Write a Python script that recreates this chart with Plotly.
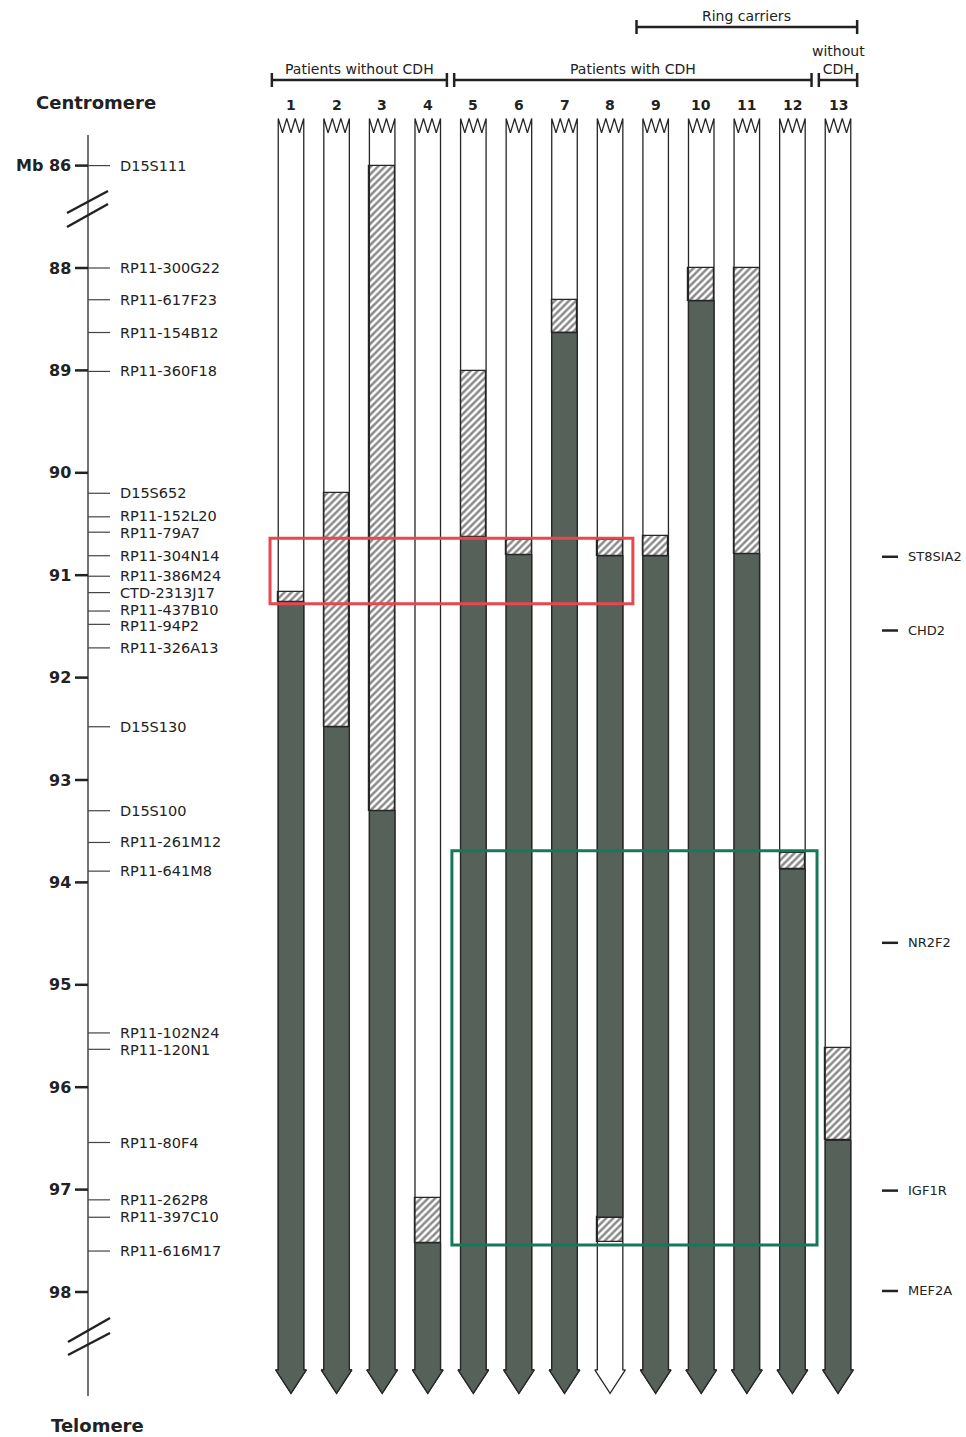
import plotly.graph_objects as go

# ---------------- data ----------------
patients = list(range(1, 14))
patient_labels = [str(p) for p in patients]

# proximal breakpoint interval per patient (Mb): retained up to / deleted from
retained_to = [91.16, 90.20, 86.00, 97.08, 89.01, 90.66, 88.31, 90.66, 90.62, 88.00, 88.00, 93.71, 95.62]
deleted_from = [91.26, 92.48, 93.30, 97.52, 90.63, 90.80, 88.63, 90.81, 90.81, 88.32, 90.79, 93.87, 96.52]
# distal breakpoint interval (interstitial deletion, patient 8 only)
deleted_to = [None, None, None, None, None, None, None, 97.27, None, None, None, None, None]
retained_from = [None, None, None, None, None, None, None, 97.51, None, None, None, None, None]

marker_names = ["D15S111", "RP11-300G22", "RP11-617F23", "RP11-154B12", "RP11-360F18",
                "D15S652", "RP11-152L20", "RP11-79A7", "RP11-304N14", "RP11-386M24",
                "CTD-2313J17", "RP11-437B10", "RP11-94P2", "RP11-326A13", "D15S130",
                "D15S100", "RP11-261M12", "RP11-641M8", "RP11-102N24", "RP11-120N1",
                "RP11-80F4", "RP11-262P8", "RP11-397C10", "RP11-616M17"]
marker_mb = [86.00, 88.00, 88.31, 88.63, 89.01, 90.20, 90.43, 90.58, 90.81, 91.01,
             91.17, 91.35, 91.48, 91.71, 92.48, 93.30, 93.61, 93.89, 95.47, 95.63,
             96.54, 97.10, 97.27, 97.60]

gene_names = ["ST8SIA2", "CHD2", "NR2F2", "IGF1R", "MEF2A"]
gene_mb = [90.82, 91.54, 94.59, 97.01, 97.99]

axis_ticks_mb = [86, 88, 89, 90, 91, 92, 93, 94, 95, 96, 97, 98]
axis_tick_labels = ["Mb 86", "88", "89", "90", "91", "92", "93", "94", "95", "96", "97", "98"]

group_labels = ["Patients without CDH", "Patients with CDH", "without<br>CDH"]
group_first = [1, 5, 13]
group_last = [4, 12, 13]
ring_label = "Ring carriers"
ring_first, ring_last = 9, 13

# highlighted regions: patient span and Mb span
box_names = ["red", "green"]
box_col_from = [0.54, 4.53]
box_col_to = [8.50, 12.54]
box_mb_from = [90.64, 93.69]
box_mb_to = [91.28, 97.54]

# ---------------- style ----------------
W, H = 966, 1437
FONT = "DejaVu Sans"
DARK = "#56615a"
LINE = "#262626"
TXT = "#222222"
RED = "#e8474f"
GREEN = "#16775a"
BAR_HALF = 0.28
HEAD_HALF = 0.335
TOP = 86.54
ZIG = 0.14
NECK = 98.76
TIP = 98.99
LABEL_SIZE = 14.5
LABEL_GAP = 0.165  # minimal vertical gap between marker labels (Mb units)


def disp(v):
    """map Mb onto the broken axis (86 -> 88 gap compressed)"""
    return v + 1 if v < 88 else v


def px(x):
    return x / W


def py(y):
    return 1 - y / H


def spread(vals, gap):
    pos = list(vals)
    for _ in range(50):
        moved = False
        for i in range(len(pos) - 1):
            d = pos[i + 1] - pos[i]
            if d < gap - 1e-9:
                push = (gap - d) / 2
                pos[i] -= push
                pos[i + 1] += push
                moved = True
        if not moved:
            break
    return pos


fig = go.Figure()

# outline of every chromosome bar (zigzag top, arrow bottom)
ox, oy = [], []
for c in patients:
    xl, xr = c - BAR_HALF, c + BAR_HALF
    for k in range(7):
        ox.append(xl + k * (xr - xl) / 6)
        oy.append(TOP + (ZIG if k % 2 else 0))
    ox += [xr, c + HEAD_HALF, c, c - HEAD_HALF, xl, xl, None]
    oy += [NECK, NECK, TIP, NECK, NECK, TOP, None]
fig.add_trace(go.Scatter(x=ox, y=oy, mode="lines", line=dict(color=LINE, width=1.3),
                         hoverinfo="skip", showlegend=False))

HATCH = dict(color="white", line=dict(color=LINE, width=1.2),
             pattern=dict(shape="/", fgcolor="#151515", bgcolor="white", size=5, solidity=0.5))

# hatched breakpoint intervals
fig.add_trace(go.Bar(
    x=patients, base=[disp(v) for v in retained_to],
    y=[d - disp(r) for r, d in zip(retained_to, deleted_from)],
    width=2 * BAR_HALF, marker=HATCH, hoverinfo="skip", showlegend=False))
dx = [p for p, a in zip(patients, deleted_to) if a is not None]
fig.add_trace(go.Bar(
    x=dx, base=[a for a in deleted_to if a is not None],
    y=[b - a for a, b in zip(deleted_to, retained_from) if a is not None],
    width=2 * BAR_HALF, marker=HATCH, hoverinfo="skip", showlegend=False))

# deleted (dark) segments
dxs, dys = [], []
for c, d0, d1 in zip(patients, deleted_from, deleted_to):
    xl, xr = c - BAR_HALF, c + BAR_HALF
    if d1 is None:
        dxs += [xl, xr, xr, c + HEAD_HALF, c, c - HEAD_HALF, xl, xl, None]
        dys += [d0, d0, NECK, NECK, TIP, NECK, NECK, d0, None]
    else:
        dxs += [xl, xr, xr, xl, xl, None]
        dys += [d0, d0, d1, d1, d0, None]
fig.add_trace(go.Scatter(x=dxs, y=dys, mode="lines", fill="toself", fillcolor=DARK,
                         line=dict(color=LINE, width=1.3), hoverinfo="skip", showlegend=False))

shapes = []
ann = []

# highlighted boxes
for name, c0, c1, m0, m1 in zip(box_names, box_col_from, box_col_to, box_mb_from, box_mb_to):
    shapes.append(dict(type="rect", xref="x", yref="y", x0=c0, x1=c1, y0=m0, y1=m1,
                       line=dict(color=RED if name == "red" else GREEN, width=3)))

# left axis
shapes.append(dict(type="line", xref="paper", yref="paper", x0=px(88), x1=px(88),
                   y0=py(135), y1=py(1396), line=dict(color="#444444", width=1.5)))
for t, lab in zip(axis_ticks_mb, axis_tick_labels):
    shapes.append(dict(type="line", xref="paper", yref="y", x0=px(75), x1=px(88),
                       y0=disp(t), y1=disp(t), line=dict(color=TXT, width=2.5)))
    ann.append(dict(x=px(73), y=disp(t), xref="paper", yref="y", text="<b>%s</b>" % lab,
                    showarrow=False, xanchor="right", yanchor="middle",
                    font=dict(family=FONT, size=16, color=TXT)))
label_pos = spread([disp(m) for m in marker_mb], LABEL_GAP)
for m, lp, nm in zip(marker_mb, label_pos, marker_names):
    shapes.append(dict(type="line", xref="paper", yref="y", x0=px(88), x1=px(110),
                       y0=disp(m), y1=disp(m), line=dict(color="#444444", width=1.2)))
    ann.append(dict(x=px(118), y=lp, xref="paper", yref="y", text=nm,
                    showarrow=False, xanchor="left", yanchor="middle",
                    font=dict(family=FONT, size=LABEL_SIZE, color=TXT)))
# axis breaks
for (x0, y0, x1, y1) in [(67, 213, 108, 191), (67, 227, 108, 204),
                         (68, 1342, 110, 1318), (68, 1355, 110, 1333)]:
    shapes.append(dict(type="line", xref="paper", yref="paper", x0=px(x0), x1=px(x1),
                       y0=py(y0), y1=py(y1), line=dict(color=TXT, width=2.5)))

ann.append(dict(x=px(96), y=py(103), xref="paper", yref="paper", text="<b>Centromere</b>",
                showarrow=False, xanchor="center", yanchor="middle",
                font=dict(family=FONT, size=18, color=TXT)))
ann.append(dict(x=px(97), y=py(1425), xref="paper", yref="paper", text="<b>Telomere</b>",
                showarrow=False, xanchor="center", yanchor="middle",
                font=dict(family=FONT, size=18, color=TXT)))

# genes on the right
for g, m in zip(gene_names, gene_mb):
    shapes.append(dict(type="line", xref="paper", yref="y", x0=px(882), x1=px(898),
                       y0=m, y1=m, line=dict(color=TXT, width=2.5)))
    ann.append(dict(x=px(906), y=m, xref="paper", yref="y", text=g, showarrow=False,
                    xanchor="left", yanchor="middle", font=dict(family=FONT, size=13, color=TXT)))

# column numbers
for c, lab in zip(patients, patient_labels):
    ann.append(dict(x=c, y=py(105), xref="x", yref="paper", text="<b>%s</b>" % lab,
                    showarrow=False, xanchor="center", yanchor="middle",
                    font=dict(family=FONT, size=14, color=TXT)))


def bracket(c0, c1, ypx, label):
    x0, x1 = c0 - 0.42, c1 + 0.42
    shapes.append(dict(type="line", xref="x", yref="paper", x0=x0, x1=x1, y0=py(ypx), y1=py(ypx),
                       line=dict(color=TXT, width=2.5)))
    for xx in (x0, x1):
        shapes.append(dict(type="line", xref="x", yref="paper", x0=xx, x1=xx,
                           y0=py(ypx - 7), y1=py(ypx + 7), line=dict(color=TXT, width=2.5)))
    ann.append(dict(x=(x0 + x1) / 2, y=py(ypx - 1), xref="x", yref="paper", text=label,
                    showarrow=False, xanchor="center", yanchor="bottom",
                    font=dict(family=FONT, size=14, color=TXT)))


for lab, a, b in zip(group_labels, group_first, group_last):
    bracket(a, b, 80, lab)
bracket(ring_first, ring_last, 27, ring_label)

col_px = 45.583
x_left = 1 - 291 / col_px
x_right = x_left + W / col_px
mb_px = 102.4
y_top = 88 - 268 / mb_px
y_bot = 88 + (H - 268) / mb_px

fig.update_layout(
    width=W, height=H, margin=dict(l=0, r=0, t=0, b=0, pad=0),
    paper_bgcolor="white", plot_bgcolor="white",
    barmode="overlay", bargap=0,
    xaxis=dict(range=[x_left, x_right], visible=False, showgrid=False, zeroline=False),
    yaxis=dict(range=[y_bot, y_top], visible=False, showgrid=False, zeroline=False),
    shapes=shapes, annotations=ann, showlegend=False,
)

fig.write_html("out.html", config={"displayModeBar": False},
               post_script="document.body.style.margin='0px';")
